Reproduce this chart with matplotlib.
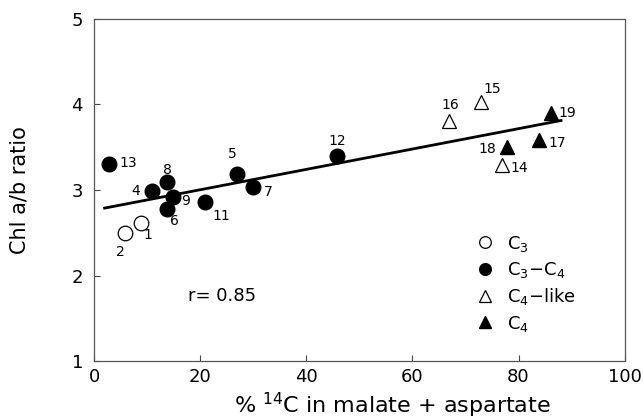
import matplotlib.pyplot as plt
import numpy as np

# % 14C in malate + aspartate vs Chl a/b ratio, numbered species
c3_x = [8.9, 5.8]
c3_y = [2.61, 2.50]
c3_ids = ['1', '2']

c3c4_x = [10.9, 26.9, 13.8, 29.9, 13.8, 14.9, 20.9, 45.8, 2.8]
c3c4_y = [2.99, 3.19, 2.78, 3.04, 3.09, 2.92, 2.86, 3.40, 3.30]
c3c4_ids = ['4', '5', '6', '7', '8', '9', '11', '12', '13']

c4like_x = [76.8, 72.9, 66.9]
c4like_y = [3.29, 4.03, 3.81]
c4like_ids = ['14', '15', '16']

c4_x = [83.8, 77.8, 86.1]
c4_y = [3.58, 3.50, 3.90]
c4_ids = ['17', '18', '19']

# regression line
fit_x = [2, 88]
fit_slope = 0.0119
fit_icept = 2.765
r_text = 'r= 0.85'

# label offsets (points) for each species number
offsets = {
    '1': (5, -8), '2': (-3, -14), '4': (-12, 0), '5': (-3, 14),
    '6': (5, -9), '7': (11, -4), '8': (0, 9), '9': (9, -3),
    '11': (12, -10), '12': (0, 11), '13': (14, 1), '14': (13, -2),
    '15': (8, 9), '16': (1, 11), '17': (13, -2), '18': (-14, -1),
    '19': (12, 0),
}

fig = plt.figure(figsize=(6.44, 4.19), dpi=100)
ax = fig.add_axes([0.146, 0.138, 0.824, 0.817])

ax.plot(fit_x, [fit_icept + fit_slope * v for v in fit_x], color='black', lw=2, zorder=1)

ms = 10.5
ax.plot(c3_x, c3_y, 'o', mfc='white', mec='black', mew=0.9, ms=ms, ls='none',
        label=r'$\mathregular{C_3}$')
ax.plot(c3c4_x, c3c4_y, 'o', mfc='black', mec='black', ms=ms, ls='none',
        label=r'$\mathregular{C_3}$$-$$\mathregular{C_4}$')
ax.plot(c4like_x, c4like_y, '^', mfc='white', mec='black', mew=0.9, ms=ms, ls='none',
        label=r'$\mathregular{C_4}$$-$like')
ax.plot(c4_x, c4_y, '^', mfc='black', mec='black', ms=ms, ls='none',
        label=r'$\mathregular{C_4}$')

for xs, ys, ids in [(c3_x, c3_y, c3_ids), (c3c4_x, c3c4_y, c3c4_ids),
                    (c4like_x, c4like_y, c4like_ids), (c4_x, c4_y, c4_ids)]:
    for x, y, s in zip(xs, ys, ids):
        ax.annotate(s, (x, y), xytext=offsets[s], textcoords='offset points',
                    ha='center', va='center', fontsize=10)

ax.text(17.7, 1.76, r_text, fontsize=13, ha='left', va='center')

ax.set_xlim(0, 100)
ax.set_ylim(1, 5)
ax.set_xticks([0, 20, 40, 60, 80, 100])
ax.set_yticks([1, 2, 3, 4, 5])
ax.tick_params(direction='in', length=4, width=0.8, labelsize=13, color='#444')
ax.tick_params(axis='x', pad=5)
ax.tick_params(axis='y', pad=8)
for sp in ax.spines.values():
    sp.set_color('#555')
    sp.set_linewidth(0.9)

ax.set_xlabel(r'% $^{\mathregular{14}}$C in malate + aspartate', fontsize=16)
ax.xaxis.set_label_coords(0.563, -0.128)
ax.xaxis.label.set_va('center')
ax.set_ylabel('Chl a/b ratio', fontsize=15)
ax.yaxis.set_label_coords(-0.141, 0.5)
ax.yaxis.label.set_va('center')

leg = ax.legend(loc='upper left', bbox_to_anchor=(0.69, 0.42), frameon=False,
                fontsize=13, markerscale=0.8, handlelength=1.0, handletextpad=0.7,
                labelspacing=0.35, numpoints=1)

fig.savefig('out.png', dpi=100)
